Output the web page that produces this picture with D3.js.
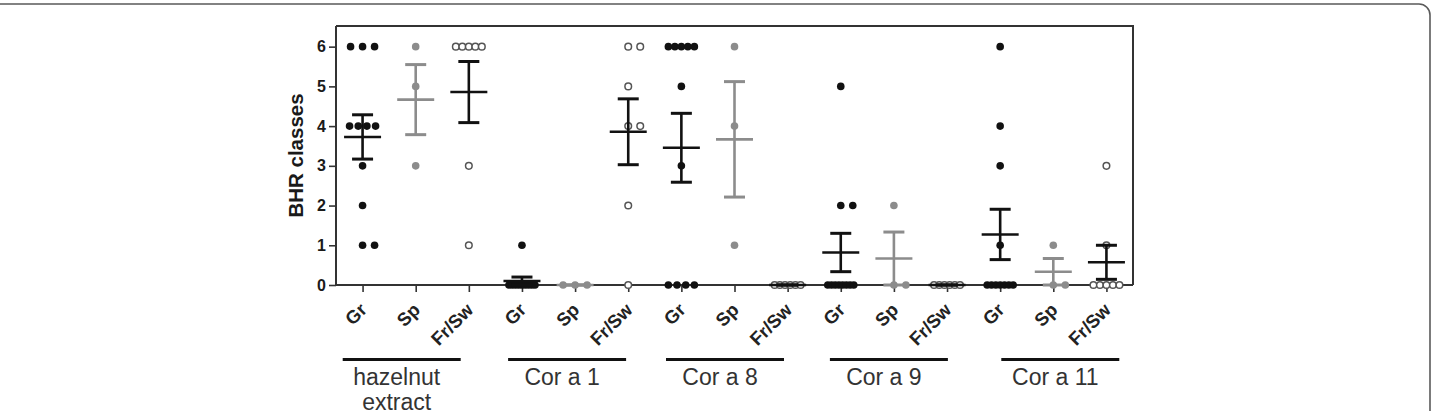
<!DOCTYPE html>
<html>
<head>
<meta charset="utf-8">
<script src="https://cdn.jsdelivr.net/npm/d3@7"></script>
<style>
  html, body { margin: 0; padding: 0; background: #fff; }
  svg { display: block; font-family: "Liberation Sans", Arial, sans-serif; }
</style>
</head>
<body>
<svg id="chart" width="1434" height="411"></svg>
<script>
// ---------- data ----------
const groups = ["hazelnut extract", "Cor a 1", "Cor a 8", "Cor a 9", "Cor a 11"];
const groupLabelLines = [["hazelnut", "extract"], ["Cor a 1"], ["Cor a 8"], ["Cor a 9"], ["Cor a 11"]];
const subgroups = ["Gr", "Sp", "Fr/Sw"];
const yTicks = [0, 1, 2, 3, 4, 5, 6];
const yTitle = "BHR classes";

// BHR class of each subject, per group / subgroup
const hazelnutGr   = [6, 6, 6, 4, 4, 4, 4, 3, 2, 1, 1];
const hazelnutSp   = [6, 5, 3];
const hazelnutFrSw = [6, 6, 6, 6, 6, 3, 1];
const corA1Gr      = [1, 0, 0, 0, 0, 0, 0, 0, 0, 0];
const corA1Sp      = [0, 0, 0];
const corA1FrSw    = [6, 6, 5, 4, 4, 2, 0];
const corA8Gr      = [6, 6, 6, 6, 6, 5, 3, 0, 0, 0, 0];
const corA8Sp      = [6, 4, 1];
const corA8FrSw    = [0, 0, 0, 0, 0, 0];
const corA9Gr      = [5, 2, 2, 0, 0, 0, 0, 0, 0, 0, 0];
const corA9Sp      = [2, 0, 0];
const corA9FrSw    = [0, 0, 0, 0, 0, 0];
const corA11Gr     = [6, 4, 3, 1, 0, 0, 0, 0, 0, 0, 0];
const corA11Sp     = [1, 0, 0];
const corA11FrSw   = [3, 1, 0, 0, 0, 0, 0];

const seriesValues = [
  hazelnutGr, hazelnutSp, hazelnutFrSw,
  corA1Gr, corA1Sp, corA1FrSw,
  corA8Gr, corA8Sp, corA8FrSw,
  corA9Gr, corA9Sp, corA9FrSw,
  corA11Gr, corA11Sp, corA11FrSw
];

// ---------- layout / style ----------
const plot = { left: 336, right: 1133, top: 26, bottom: 285 };
const groupLineShift = [-14, -8, -9.5, -5, 7];   // visual offset of group bars
const styleBy = {
  "Gr":    { fill: "#111", stroke: "none", bar: "#111" },
  "Sp":    { fill: "#8c8c8c", stroke: "none", bar: "#8c8c8c" },
  "Fr/Sw": { fill: "#fff", stroke: "#555", bar: "#111" }
};

const keys = [];
groups.forEach((g, gi) => subgroups.forEach(s => keys.push(gi + "|" + s)));

const svg = d3.select("#chart");

const x = d3.scalePoint().domain(keys).range([plot.left, plot.right]).padding(0.5);
const y = d3.scaleLinear().domain([0, 6.52]).range([plot.bottom, plot.top]);

// outer figure frame
svg.append("rect")
  .attr("x", -20).attr("y", 4).attr("width", 1450).attr("height", 460)
  .attr("rx", 11).attr("fill", "none").attr("stroke", "#5a5a5a").attr("stroke-width", 1.6);

// plot box (top + right)
svg.append("path")
  .attr("d", `M${plot.left},${plot.top}H${plot.right}V${plot.bottom}`)
  .attr("fill", "none").attr("stroke", "#333").attr("stroke-width", 2);

// y axis
const yAxis = d3.axisLeft(y).tickValues(yTicks).tickFormat(d3.format("d")).tickSize(7).tickPadding(3);
const gy = svg.append("g").attr("transform", `translate(${plot.left},0)`).call(yAxis);
gy.select(".domain").attr("d", `M0,${plot.top}V${plot.bottom}`).attr("stroke", "#333").attr("stroke-width", 2);
gy.selectAll(".tick line").attr("stroke", "#333").attr("stroke-width", 1.6);
gy.selectAll(".tick text").attr("font-size", 16).attr("font-weight", "bold").attr("fill", "#1a1a1a")
  .attr("font-family", "'Liberation Sans', Arial, sans-serif");

// x axis
const xAxis = d3.axisBottom(x).tickSize(7).tickFormat(() => "");
const gx = svg.append("g").attr("transform", `translate(0,${plot.bottom})`).call(xAxis);
gx.select(".domain").attr("d", `M${plot.left},0H${plot.right}`).attr("stroke", "#333").attr("stroke-width", 2);
gx.selectAll(".tick line").attr("stroke", "#333").attr("stroke-width", 1.6);

// rotated subgroup labels
svg.append("g").selectAll("text").data(keys).join("text")
  .attr("transform", d => `translate(${x(d) + 5.5},${plot.bottom + 26}) rotate(-45)`)
  .attr("text-anchor", "end")
  .attr("font-size", 18.5).attr("font-weight", "bold").attr("fill", "#222")
  .text(d => d.split("|")[1]);

// y title
svg.append("text")
  .attr("transform", `translate(303,${(plot.top + plot.bottom) / 2}) rotate(-90)`)
  .attr("text-anchor", "middle")
  .attr("font-size", 20.5).attr("font-weight", "bold").attr("fill", "#1a1a1a")
  .text(yTitle);

// group bars and labels
const lineY = 359.5;
groups.forEach((g, gi) => {
  const cx = x(gi + "|Sp") + groupLineShift[gi];
  svg.append("line")
    .attr("x1", cx - 59).attr("x2", cx + 59).attr("y1", lineY).attr("y2", lineY)
    .attr("stroke", "#111").attr("stroke-width", 3.2);
  const t = svg.append("text").attr("text-anchor", "middle")
    .attr("font-size", 23).attr("fill", "#333");
  groupLabelLines[gi].forEach((ln, li) => {
    t.append("tspan").attr("x", cx - 5).attr("y", 385 + li * 25).text(ln);
  });
});

// points
const pts = [];
keys.forEach((k, i) => {
  const vals = seriesValues[i];
  const counts = d3.rollup(vals, v => v.length, v => v);
  const seen = new Map();
  vals.forEach(v => {
    const n = counts.get(v);
    const j = seen.get(v) || 0; seen.set(v, j + 1);
    const s = Math.min(12, 26 / Math.max(1, n - 1));
    const off = n === 2 ? j * 12 : (j - (n - 1) / 2) * s;
    pts.push({ k, sub: k.split("|")[1], v, off });
  });
});
svg.append("g").selectAll("circle").data(pts).join("circle")
  .attr("cx", d => x(d.k) + d.off)
  .attr("cy", d => y(d.v))
  .attr("r", d => d.sub === "Fr/Sw" ? 3.3 : 3.8)
  .attr("fill", d => styleBy[d.sub].fill)
  .attr("stroke", d => styleBy[d.sub].stroke)
  .attr("stroke-width", 1.5);

// mean ± SEM
const stats = keys.map((k, i) => {
  const vals = seriesValues[i];
  const m = d3.mean(vals);
  const sem = (d3.deviation(vals) || 0) / Math.sqrt(vals.length);
  return { k, sub: k.split("|")[1], m, lo: Math.max(0, m - sem), hi: m + sem };
});
const gs = svg.append("g").selectAll("g").data(stats).join("g")
  .attr("stroke", d => styleBy[d.sub].bar).attr("fill", "none");
gs.append("line").attr("x1", d => x(d.k)).attr("x2", d => x(d.k))
  .attr("y1", d => y(d.lo)).attr("y2", d => y(d.hi)).attr("stroke-width", 2.6);
gs.append("line").attr("x1", d => x(d.k) - 10.5).attr("x2", d => x(d.k) + 10.5)
  .attr("y1", d => y(d.hi)).attr("y2", d => y(d.hi)).attr("stroke-width", 3);
gs.append("line").attr("x1", d => x(d.k) - 10.5).attr("x2", d => x(d.k) + 10.5)
  .attr("y1", d => y(d.lo)).attr("y2", d => y(d.lo)).attr("stroke-width", 3);
gs.append("line").attr("x1", d => x(d.k) - 18.5).attr("x2", d => x(d.k) + 18.5)
  .attr("y1", d => y(d.m)).attr("y2", d => y(d.m)).attr("stroke-width", 2.6);
</script>
</body>
</html>
